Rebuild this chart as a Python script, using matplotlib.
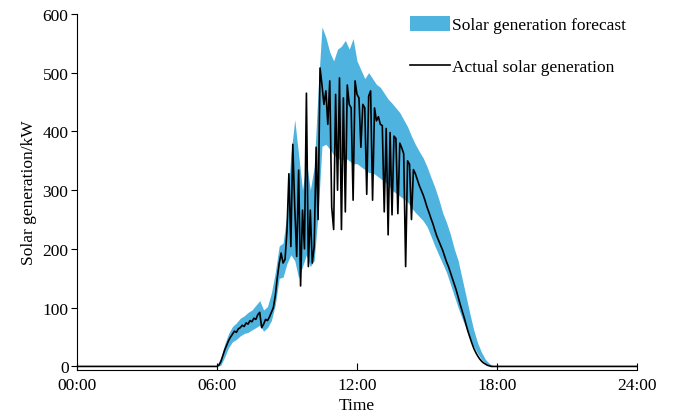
import numpy as np
import matplotlib
matplotlib.use('Agg')
import matplotlib.pyplot as plt

plt.rcParams['font.family'] = ['Liberation Serif', 'DejaVu Serif']
plt.rcParams['font.size'] = 12.5

# Actual generation, 5-minute steps from 06:00 to 18:00 (kW)
actual_06_18 = [
    0, 2, 8, 18, 28, 36, 44, 50, 55, 60, 58, 64,
    66, 70, 68, 74, 72, 78, 76, 82, 80, 88, 92, 66,
    72, 80, 78, 84, 92, 100, 120, 150, 175, 193, 176, 182,
    230, 328, 204, 378, 271, 187, 334, 137, 266, 200, 465, 170,
    266, 176, 204, 373, 250, 508, 479, 446, 469, 412, 486, 271,
    233, 463, 300, 491, 233, 457, 263, 479, 446, 440, 283, 486,
    463, 457, 373, 446, 440, 293, 460, 469, 283, 440, 418, 425,
    412, 410, 263, 405, 224, 398, 258, 392, 388, 260, 380, 372,
    362, 170, 350, 344, 250, 335, 328, 318, 308, 300, 292, 282,
    271, 262, 252, 243, 232, 222, 214, 206, 198, 188, 178, 170,
    160, 150, 140, 130, 118, 106, 95, 84, 72, 60, 50, 40,
    31, 24, 18, 13, 9, 6, 4, 2, 1, 0, 0, 0,
    0,
]

# Forecast band, 10-minute steps from 06:00 to 18:00 (kW)
forecast_low = [
    0, 2, 16, 32, 42, 46,
    52, 56, 58, 62, 66, 70,
    60, 66, 78, 105, 150, 152,
    175, 190, 180, 150, 170, 190,
    170, 180, 260, 375, 378, 370,
    360, 355, 350, 355, 350, 345,
    345, 340, 335, 330, 330, 325,
    320, 315, 310, 300, 295, 290,
    285, 280, 270, 262, 255, 248,
    238, 222, 205, 190, 175, 160,
    140, 120, 100, 82, 65, 48,
    34, 22, 12, 5, 2, 0,
    0,
]
forecast_high = [
    2, 14, 38, 56, 68, 74,
    82, 86, 92, 96, 104, 112,
    96, 102, 125, 160, 205, 210,
    260, 360, 420, 360, 300, 350,
    300, 340, 470, 578, 560, 535,
    520, 540, 545, 555, 540, 558,
    520, 505, 490, 500, 490, 480,
    475, 465, 455, 448, 440, 432,
    420, 408, 392, 378, 366, 355,
    340, 322, 305, 285, 262, 245,
    225, 200, 180, 150, 120, 90,
    62, 40, 24, 12, 5, 1,
    0,
]

tick_hours = [0, 6, 12, 18, 24]
tick_labels = ['00:00', '06:00', '12:00', '18:00', '24:00']

t_act = np.concatenate([[0.0], 6 + np.arange(len(actual_06_18)) * 5 / 60, [24.0]])
y_act = np.concatenate([[0.0], actual_06_18, [0.0]])
t_fc = 6 + np.arange(len(forecast_low)) * 10 / 60

fig = plt.figure(figsize=(6.8, 4.14), dpi=100)
ax = fig.add_axes([0.113, 0.104, 0.824, 0.86])

ax.fill_between(t_fc, forecast_low, forecast_high, color='#4fb3df', linewidth=0,
                label='Solar generation forecast')
ax.plot(t_act, y_act, color='black', linewidth=1.2, label='Actual solar generation')

ax.set_xlim(0, 24)
ax.set_ylim(-6, 600)
ax.set_xticks(tick_hours)
ax.set_xticklabels(tick_labels)
ax.set_yticks([0, 100, 200, 300, 400, 500, 600])
ax.tick_params(axis='x', direction='in', length=5, pad=5)
ax.tick_params(axis='y', direction='out', length=4, pad=2)
ax.spines['top'].set_visible(False)
ax.spines['right'].set_visible(False)
ax.set_xlabel('Time', labelpad=3)
ax.set_ylabel('Solar generation/kW', labelpad=4)

ax.legend(loc='upper left', bbox_to_anchor=(0.595, 0.995), frameon=False,
          borderaxespad=0, borderpad=0, handlelength=2.3, handleheight=1.0,
          handletextpad=0.1, labelspacing=1.4)

fig.savefig('out.png', dpi=100)
